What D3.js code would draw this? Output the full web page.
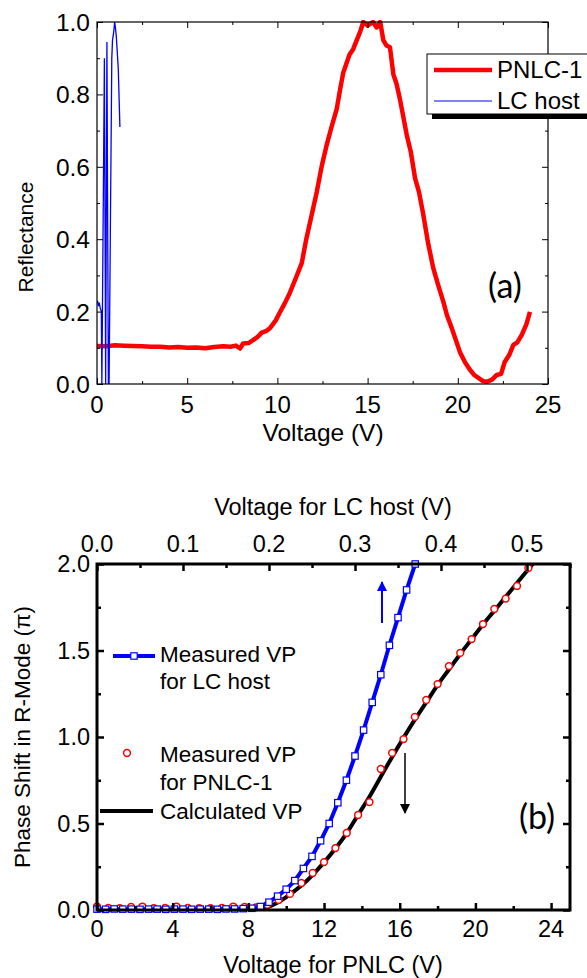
<!DOCTYPE html>
<html>
<head>
<meta charset="utf-8">
<script src="https://cdn.jsdelivr.net/npm/d3@7"></script>
<style>
  body { margin: 0; background: #fff; }
  text { font-family: "Liberation Sans", Arial, sans-serif; fill: #000; }
  .tag { font-family: Lato, "Open Sans", sans-serif; }
</style>
</head>
<body>
<div id="chart"></div>
<script>
// ---- panel (a) data: reflectance vs voltage ----
var pnlcVolt = [0, 0.5, 1, 1.5, 2, 2.5, 3, 3.5, 4, 4.5, 5, 5.5, 6, 6.5, 7, 7.4, 7.7, 7.93, 8.1, 8.4,
  8.65, 8.9, 9.13, 9.4, 9.6, 9.9, 10.14, 10.4, 10.7, 11.0, 11.35, 11.6, 11.9, 12.18, 12.45, 12.73,
  13.0, 13.29, 13.5, 13.65, 14.0, 14.2, 14.4, 14.6, 14.76, 15.0, 15.3, 15.5, 15.7, 15.87, 16.05,
  16.24, 16.43, 16.6, 16.8, 17.17, 17.4, 17.63, 17.85, 18.09, 18.35, 18.64, 18.9, 19.2, 19.4,
  19.66, 19.9, 20.12, 20.4, 20.68, 20.9, 21.14, 21.4, 21.6, 21.9, 22.16, 22.4, 22.6, 22.85, 23.08,
  23.3, 23.54, 23.8, 24.0];
var pnlcRefl = [0.105, 0.104, 0.107, 0.106, 0.105, 0.104, 0.103, 0.103, 0.101, 0.102, 0.100, 0.101,
  0.099, 0.102, 0.104, 0.103, 0.106, 0.098, 0.112, 0.113, 0.121, 0.13, 0.142, 0.147, 0.155, 0.175,
  0.198, 0.222, 0.253, 0.29, 0.334, 0.4, 0.467, 0.53, 0.6, 0.66, 0.71, 0.76, 0.82, 0.86, 0.91,
  0.925, 0.95, 0.975, 1.0, 0.99, 1.0, 0.985, 1.0, 0.95, 0.935, 0.93, 0.855, 0.83, 0.785, 0.688,
  0.64, 0.569, 0.53, 0.467, 0.39, 0.32, 0.275, 0.227, 0.19, 0.155, 0.12, 0.088, 0.06, 0.039, 0.025,
  0.017, 0.008, 0.006, 0.012, 0.025, 0.028, 0.061, 0.08, 0.108, 0.115, 0.135, 0.165, 0.199];

var hostVolt = [0.03, 0.08, 0.12, 0.18, 0.24, 0.27, 0.41, 0.48, 0.55, 0.63, 0.67, 0.82, 0.86, 0.92,
  0.98, 1.02, 1.07, 1.12, 1.18, 1.27];
var hostRefl = [0.23, 0.215, 0.225, 0.21, 0.2, 0.0, 0.9, 0.0, 0.945, 0.0, 0.0, 0.9, 0.95, 0.97,
  1.0, 0.985, 0.96, 0.92, 0.87, 0.71];

var aXTicks = [0, 5, 10, 15, 20, 25];
var aXMinor = [2.5, 7.5, 12.5, 17.5, 22.5];
var aYTicks = [0, 0.2, 0.4, 0.6, 0.8, 1.0];
var aYMinor = [0.1, 0.3, 0.5, 0.7, 0.9];

// ---- panel (b) data: phase shift ----
var vpHostVolt = [0.00, 0.01, 0.02, 0.03, 0.04, 0.05, 0.06, 0.07, 0.08, 0.09, 0.10, 0.11, 0.12,
  0.13, 0.14, 0.15, 0.16, 0.17, 0.18, 0.19, 0.20, 0.21, 0.22, 0.23, 0.24, 0.25, 0.26, 0.27, 0.28,
  0.29, 0.30, 0.31, 0.32, 0.33, 0.34, 0.35, 0.36, 0.37];
var vpHostPhase = [0.005, 0.004, 0.006, 0.005, 0.005, 0.004, 0.005, 0.005, 0.004, 0.005, 0.005,
  0.004, 0.005, 0.005, 0.004, 0.006, 0.006, 0.008, 0.01, 0.02, 0.045, 0.08, 0.12, 0.17, 0.24,
  0.31, 0.40, 0.50, 0.62, 0.75, 0.89, 1.04, 1.20, 1.36, 1.53, 1.69, 1.85, 2.00];

var vpPnlcVolt = [0, 0.6, 1.2, 1.8, 2.4, 3.0, 3.6, 4.2, 4.8, 5.4, 6.0, 6.6, 7.2, 7.8, 8.4, 9.0,
  9.6, 10.2, 10.8, 11.4, 12.0, 12.6, 13.2, 13.8, 14.4, 15.0, 15.6, 16.2, 16.8, 17.4, 18.0, 18.6,
  19.2, 19.8, 20.4, 21.0, 21.6, 22.2, 22.8];
var vpPnlcPhase = [0.02, 0.012, 0.01, 0.018, 0.02, 0.01, 0.012, 0.02, 0.012, 0.01, 0.01, 0.012,
  0.02, 0.018, 0.015, 0.03, 0.058, 0.093, 0.156, 0.214, 0.277, 0.358, 0.445, 0.549, 0.624, 0.815,
  0.908, 0.988, 1.116, 1.214, 1.306, 1.41, 1.486, 1.566, 1.653, 1.74, 1.80, 1.873, 1.977];

var calcVolt = [0, 2, 4, 6, 8, 8.6, 9.0, 9.5, 10, 10.5, 11, 11.5, 12, 12.6, 13.2, 13.8, 14.4, 15,
  15.6, 16.2, 16.8, 17.4, 18, 18.6, 19.2, 19.8, 20.4, 21, 21.6, 22.2, 22.8, 23.1];
var calcPhase = [0, 0, 0, 0, 0, 0.002, 0.015, 0.04, 0.075, 0.115, 0.16, 0.215, 0.275, 0.355, 0.445,
  0.55, 0.655, 0.77, 0.885, 0.995, 1.1, 1.2, 1.3, 1.39, 1.48, 1.565, 1.65, 1.73, 1.81, 1.89, 1.97,
  2.01];

var bXTicks = [0, 4, 8, 12, 16, 20, 24];
var bXMinor = [2, 6, 10, 14, 18, 22];
var bTopTicks = [0, 0.1, 0.2, 0.3, 0.4, 0.5];
var bTopMinor = [0.05, 0.15, 0.25, 0.35, 0.45, 0.55];
var bYTicks = [0, 0.5, 1.0, 1.5, 2.0];
var bYMinor = [0.25, 0.75, 1.25, 1.75];

var width = 587, height = 978;

var svg = d3.select("#chart").append("svg")
    .attr("width", width)
    .attr("height", height);

function zip(xs, ys) { return xs.map(function(v, i) { return [v, ys[i]]; }); }

// draws inward ticks on all four sides
function frameTicks(g, x, y, xTop, opt) {
    var b = y.range()[0], t = y.range()[1], l = x.range()[0], r = x.range()[1];
    function axis(gen, tr, vals, size) {
        var a = g.append("g").attr("transform", tr)
            .call(gen.tickValues(vals).tickSize(-size).tickFormat(""));
        a.select(".domain").remove();
        a.selectAll("line").attr("stroke", "#000").attr("stroke-width", opt.tw);
    }
    axis(d3.axisBottom(x), "translate(0," + b + ")", opt.xMaj, opt.maj);
    axis(d3.axisBottom(x), "translate(0," + b + ")", opt.xMin, opt.min);
    axis(d3.axisTop(xTop), "translate(0," + t + ")", opt.tMaj, opt.maj);
    axis(d3.axisTop(xTop), "translate(0," + t + ")", opt.tMin, opt.min);
    axis(d3.axisLeft(y), "translate(" + l + ",0)", opt.yMaj, opt.maj);
    axis(d3.axisLeft(y), "translate(" + l + ",0)", opt.yMin, opt.min);
    axis(d3.axisRight(y), "translate(" + r + ",0)", opt.yMaj, opt.maj);
    axis(d3.axisRight(y), "translate(" + r + ",0)", opt.yMin, opt.min);
    g.append("rect")
        .attr("x", l).attr("y", t)
        .attr("width", r - l).attr("height", b - t)
        .attr("fill", "none").attr("stroke", "#000").attr("stroke-width", opt.fw);
}

/*** PANEL (a) ***/
var xa = d3.scaleLinear().domain([0, 25]).range([97, 548]);
var ya = d3.scaleLinear().domain([0, 1]).range([384, 22]);
var ga = svg.append("g");

svg.append("clipPath").attr("id", "clipA").append("rect")
    .attr("x", 97).attr("y", 20).attr("width", 451).attr("height", 364);

var lineA = d3.line().x(function(d) { return xa(d[0]); }).y(function(d) { return ya(d[1]); });

ga.append("path")
    .attr("d", lineA(zip(pnlcVolt, pnlcRefl)))
    .attr("clip-path", "url(#clipA)")
    .attr("fill", "none").attr("stroke", "#ff0000")
    .attr("stroke-width", 4.5).attr("stroke-linejoin", "round");

ga.append("path")
    .attr("d", lineA(zip(hostVolt, hostRefl)))
    .attr("clip-path", "url(#clipA)")
    .attr("fill", "none").attr("stroke", "#0000ff").attr("stroke-width", 1.3);

frameTicks(ga, xa, ya, xa, {xMaj: aXTicks, xMin: aXMinor, tMaj: aXTicks, tMin: aXMinor,
    yMaj: aYTicks, yMin: aYMinor, maj: 6, min: 3, tw: 1, fw: 1.2});

ga.selectAll(".xlab").data(aXTicks).enter().append("text")
    .attr("x", function(d) { return xa(d); }).attr("y", 413)
    .attr("text-anchor", "middle").style("font-size", "24px")
    .text(function(d) { return d; });
ga.selectAll(".ylab").data(aYTicks).enter().append("text")
    .attr("x", 90).attr("y", function(d) { return ya(d) + 9; })
    .attr("text-anchor", "end").style("font-size", "24.5px")
    .text(function(d) { return d.toFixed(1); });

ga.append("text").attr("x", 323).attr("y", 441)
    .attr("text-anchor", "middle").style("font-size", "24.5px").text("Voltage (V)");
ga.append("text").attr("transform", "translate(33,237) rotate(-90)")
    .attr("text-anchor", "middle").style("font-size", "21px").text("Reflectance");

ga.append("text").attr("class", "tag").attr("x", 505).attr("y", 298)
    .attr("text-anchor", "middle").style("font-size", "34px").text("(a)");

// legend with drop shadow
ga.append("rect").attr("x", 432).attr("y", 59).attr("width", 170).attr("height", 60).attr("fill", "#000");
ga.append("rect").attr("x", 427).attr("y", 54).attr("width", 170).attr("height", 60)
    .attr("fill", "#fff").attr("stroke", "#000").attr("stroke-width", 1);
ga.append("line").attr("x1", 434).attr("x2", 492).attr("y1", 70).attr("y2", 70)
    .attr("stroke", "#ff0000").attr("stroke-width", 4.5);
ga.append("line").attr("x1", 434).attr("x2", 492).attr("y1", 101).attr("y2", 101)
    .attr("stroke", "#0000ff").attr("stroke-width", 1.2);
ga.append("text").attr("x", 497).attr("y", 78).style("font-size", "24px").text("PNLC-1");
ga.append("text").attr("x", 497).attr("y", 109).style("font-size", "24px").text("LC host");

/*** PANEL (b) ***/
var xb = d3.scaleLinear().domain([0, 25]).range([97, 570]);
var xbTop = d3.scaleLinear().domain([0, 0.55]).range([97, 570]);
var yb = d3.scaleLinear().domain([0, 2]).range([910, 564]);
var gb = svg.append("g");

svg.append("clipPath").attr("id", "clipB").append("rect")
    .attr("x", 97).attr("y", 564).attr("width", 473).attr("height", 346);

gb.append("path")
    .attr("d", d3.line().curve(d3.curveMonotoneX)
        .x(function(d) { return xb(d[0]); }).y(function(d) { return yb(d[1]); })(zip(calcVolt, calcPhase)))
    .attr("clip-path", "url(#clipB)")
    .attr("fill", "none").attr("stroke", "#000").attr("stroke-width", 4);

gb.selectAll(".pc").data(zip(vpPnlcVolt, vpPnlcPhase)).enter().append("circle")
    .attr("cx", function(d) { return xb(d[0]); }).attr("cy", function(d) { return yb(d[1]); })
    .attr("r", 3.4).attr("fill", "#fff").attr("stroke", "#ff0000").attr("stroke-width", 1.5);

var hostPts = zip(vpHostVolt, vpHostPhase);
gb.append("path")
    .attr("d", d3.line().x(function(d) { return xbTop(d[0]); }).y(function(d) { return yb(d[1]); })(hostPts))
    .attr("clip-path", "url(#clipB)")
    .attr("fill", "none").attr("stroke", "#0000ff").attr("stroke-width", 4);
gb.selectAll(".sq").data(hostPts).enter().append("rect")
    .attr("x", function(d) { return xbTop(d[0]) - 3.2; }).attr("y", function(d) { return yb(d[1]) - 3.2; })
    .attr("width", 6.4).attr("height", 6.4)
    .attr("fill", "#fff").attr("stroke", "#0000ff").attr("stroke-width", 1.2);

frameTicks(gb, xb, yb, xbTop, {xMaj: bXTicks, xMin: bXMinor, tMaj: bTopTicks, tMin: bTopMinor,
    yMaj: bYTicks, yMin: bYMinor, maj: 7, min: 4, tw: 2.5, fw: 3});

gb.selectAll(".xlab").data(bXTicks).enter().append("text")
    .attr("x", function(d) { return xb(d); }).attr("y", 937)
    .attr("text-anchor", "middle").style("font-size", "23.5px")
    .text(function(d) { return d; });
gb.selectAll(".tlab").data(bTopTicks).enter().append("text")
    .attr("x", function(d) { return xbTop(d); }).attr("y", 552)
    .attr("text-anchor", "middle").style("font-size", "23.5px")
    .text(function(d) { return d.toFixed(1); });
gb.selectAll(".ylab").data(bYTicks).enter().append("text")
    .attr("x", 90).attr("y", function(d) { return yb(d) + 8; })
    .attr("text-anchor", "end").style("font-size", "23.5px")
    .text(function(d) { return d.toFixed(1); });

gb.append("text").attr("x", 333).attr("y", 973)
    .attr("text-anchor", "middle").style("font-size", "23.5px").text("Voltage for PNLC (V)");
gb.append("text").attr("x", 333).attr("y", 515)
    .attr("text-anchor", "middle").style("font-size", "23.5px").text("Voltage for LC host (V)");
gb.append("text").attr("transform", "translate(30,737) rotate(-90)")
    .attr("text-anchor", "middle").style("font-size", "22.5px").text("Phase Shift in R-Mode (\u03c0)");

gb.append("text").attr("class", "tag").attr("x", 537).attr("y", 829)
    .attr("text-anchor", "middle").style("font-size", "34px").text("(b)");

// arrows
svg.append("defs").selectAll("marker").data([["arB", "#0000ff"], ["arK", "#000"]]).enter()
    .append("marker")
    .attr("id", function(d) { return d[0]; })
    .attr("viewBox", "0 0 10 10").attr("refX", 9).attr("refY", 5)
    .attr("markerWidth", 10).attr("markerHeight", 12).attr("markerUnits", "userSpaceOnUse")
    .attr("orient", "auto")
    .append("path").attr("d", "M0,0 L10,5 L0,10 Z").attr("fill", function(d) { return d[1]; });
gb.append("line").attr("x1", 382).attr("x2", 382).attr("y1", 623).attr("y2", 582)
    .attr("stroke", "#0000ff").attr("stroke-width", 2).attr("marker-end", "url(#arB)");
gb.append("line").attr("x1", 405).attr("x2", 405).attr("y1", 753).attr("y2", 813)
    .attr("stroke", "#000").attr("stroke-width", 1.5).attr("marker-end", "url(#arK)");

// legend
gb.append("line").attr("x1", 113).attr("x2", 155).attr("y1", 656).attr("y2", 656)
    .attr("stroke", "#0000ff").attr("stroke-width", 4);
gb.append("rect").attr("x", 130.8).attr("y", 652.8).attr("width", 6.4).attr("height", 6.4)
    .attr("fill", "#fff").attr("stroke", "#0000ff").attr("stroke-width", 1.2);
gb.append("circle").attr("cx", 127).attr("cy", 753).attr("r", 3.4)
    .attr("fill", "#fff").attr("stroke", "#ff0000").attr("stroke-width", 1.5);
gb.append("line").attr("x1", 100).attr("x2", 153).attr("y1", 811).attr("y2", 811)
    .attr("stroke", "#000").attr("stroke-width", 4);

var legLines = [["Measured VP", 662], ["for LC host", 689], ["Measured VP", 762],
    ["for PNLC-1", 790], ["Calculated VP", 819]];
gb.selectAll(".leg").data(legLines).enter().append("text")
    .attr("x", 160).attr("y", function(d) { return d[1]; })
    .style("font-size", "22.5px").text(function(d) { return d[0]; });
</script>
</body>
</html>
